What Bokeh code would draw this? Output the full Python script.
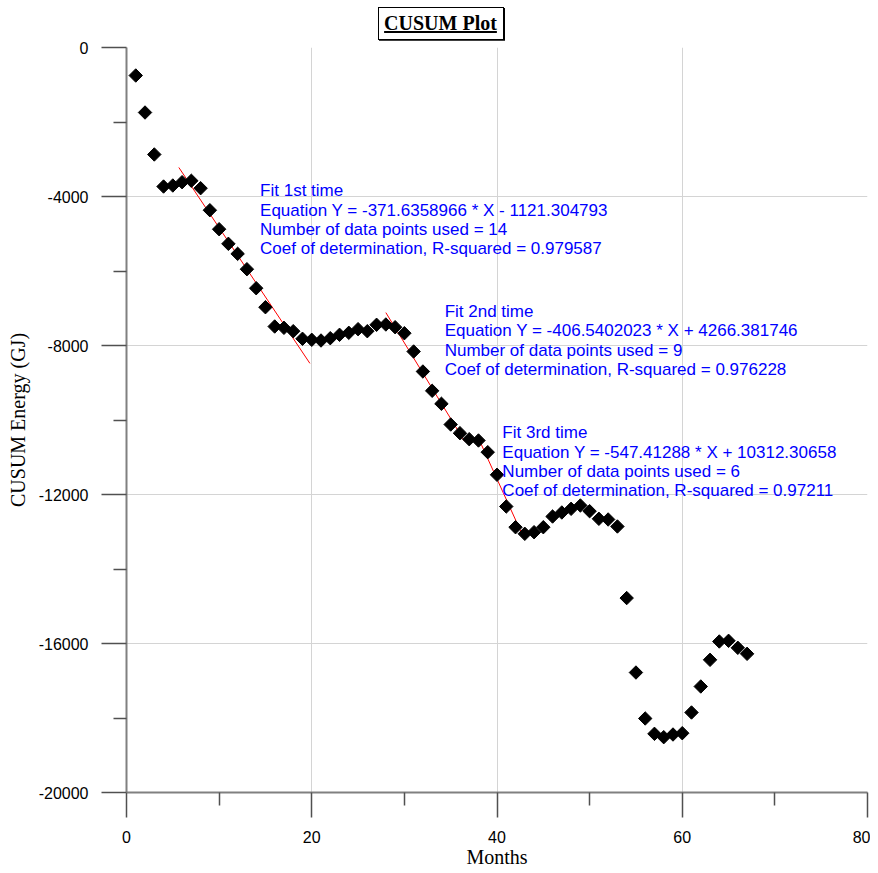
from bokeh.plotting import figure
from bokeh.models import Range1d, FixedTicker, PrintfTickFormatter, Div, ColumnDataSource
from bokeh.layouts import column
from bokeh.core.properties import value
from bokeh.embed import file_html
from bokeh.resources import INLINE

# ---- data ----
months = list(range(1, 68))
cusum = [
    -752, -1745, -2872, -3732, -3705, -3616, -3578, -3777, -4368, -4878,
    -5270, -5539, -5952, -6462, -6972, -7490, -7525, -7616, -7820, -7847,
    -7866, -7804, -7713, -7659, -7562, -7616, -7444, -7436, -7509, -7670,
    -8161, -8698, -9216, -9565, -10121, -10354, -10515, -10550, -10864, -11471,
    -12322, -12878, -13055, -13012, -12878, -12591, -12483, -12384, -12295, -12448,
    -12652, -12671, -12859, -14780, -16779, -18013, -18425, -18515, -18443, -18408,
    -17852, -17154, -16438, -15946, -15928, -16116, -16277,
]

fit_slopes = [-371.6358966, -406.5402023, -547.41288]
fit_intercepts = [-1121.304793, 4266.381746, 10312.30658]
fit_x_start = [5.65, 28.0, 37.9]
fit_x_end = [19.8, 36.5, 42.6]

fit_labels = [
    "Fit 1st time\nEquation Y = -371.6358966 * X - 1121.304793\nNumber of data points used = 14\nCoef of determination, R-squared = 0.979587",
    "Fit 2nd time\nEquation Y = -406.5402023 * X + 4266.381746\nNumber of data points used = 9\nCoef of determination, R-squared = 0.976228",
    "Fit 3rd time\nEquation Y = -547.41288 * X + 10312.30658\nNumber of data points used = 6\nCoef of determination, R-squared = 0.97211",
]
label_x = [14.42, 34.35, 40.58]
label_y = [-3592, -6830, -10088]

x_major = [0, 20, 40, 60, 80]
x_minor = [10, 30, 50, 70]
y_major = [-20000, -16000, -12000, -8000, -4000, 0]
y_minor = [-18000, -14000, -10000, -6000, -2000]

# ---- figure ----
p = figure(
    frame_width=741, frame_height=745,
    x_range=Range1d(0, 80), y_range=Range1d(-20000, 0),
    output_backend="svg", toolbar_location=None,
    min_border_left=126, min_border_right=3, min_border_top=7, min_border_bottom=0,
)
p.outline_line_color = None
p.background_fill_color = "white"

for ax in (p.xaxis[0], p.yaxis[0]):
    ax.axis_line_color = "#808080"
    ax.axis_line_width = 2
    ax.major_tick_line_color = "#505050"
    ax.major_tick_line_width = 1.5
    ax.minor_tick_line_color = "#505050"
    ax.minor_tick_line_width = 1.5
    ax.major_tick_out = 25
    ax.major_tick_in = 0
    ax.minor_tick_out = 13
    ax.minor_tick_in = 0
    ax.major_label_text_font = "Liberation Sans"
    ax.major_label_text_font_size = "16px"
    ax.major_label_text_color = "black"
    ax.major_label_standoff = 13
    ax.axis_label_text_font = "Liberation Serif"
    ax.axis_label_text_font_size = "20px"
    ax.axis_label_text_font_style = "normal"
    ax.axis_label_text_color = "black"
    ax.formatter = PrintfTickFormatter(format="%d")

p.xaxis[0].ticker = FixedTicker(ticks=x_major, minor_ticks=x_minor)
p.yaxis[0].ticker = FixedTicker(ticks=y_major, minor_ticks=y_minor)
p.xaxis[0].axis_label = "Months"
p.yaxis[0].axis_label = "CUSUM Energy (GJ)"
p.xaxis[0].axis_label_standoff = 0
p.yaxis[0].axis_label_standoff = 7

p.xgrid[0].ticker = FixedTicker(ticks=x_major)
p.ygrid[0].ticker = FixedTicker(ticks=y_major)
for g in (p.xgrid[0], p.ygrid[0]):
    g.grid_line_color = "#d4d4d4"
    g.grid_line_width = 1

# fit lines
for s, b, x0, x1 in zip(fit_slopes, fit_intercepts, fit_x_start, fit_x_end):
    p.line([x0, x1], [s * x0 + b, s * x1 + b], line_color="red", line_width=1)

# data
src = ColumnDataSource(dict(x=months, y=cusum))
p.scatter("x", "y", source=src, marker="square", size=9.5, angle=0.785398,
          fill_color="black", line_color="black")

# annotations
p.text(x=label_x, y=label_y, text=fit_labels, text_color="#0000ff",
       text_font=value("Liberation Sans"), text_font_size="17px",
       text_baseline="top", text_align="left", text_line_height=1.02)

title = Div(
    text=('<div style="width:870px;">'
          '<div style="display:table;margin:7px auto 0 auto;position:relative;left:6px;'
          'border:1px solid #000;box-shadow:1px 1px 0 #000;'
          'padding:2px 6px 2px 5px;font-family:\'Liberation Serif\';font-weight:bold;'
          'font-size:20px;line-height:27px;text-decoration:underline;color:#000;">CUSUM Plot</div></div>'),
    width=870, height=40, margin=(0, 0, 0, 0),
)

layout = column(title, p, spacing=0)
open("out.html", "w").write(file_html(layout, INLINE))
